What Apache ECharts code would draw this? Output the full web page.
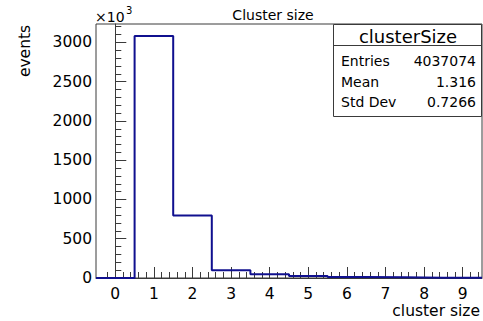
<!DOCTYPE html>
<html>
<head>
<meta charset="utf-8">
<script src="https://cdn.jsdelivr.net/npm/echarts@6/dist/echarts.min.js"></script>
<style>
  html, body { margin: 0; padding: 0; background: #ffffff; }
  #chart { width: 483px; height: 321px; }
</style>
</head>
<body>
<div id="chart"></div>
<script>
// Cluster-size histogram: bin centres and counts (in units of 10^3 events)
const binCenters = [0, 1, 2, 3, 4, 5, 6, 7, 8, 9];
const counts = [0, 3080, 795, 100, 48, 25, 14, 9, 4, 2];
const binWidth = 1;

// Axis tick labels
const xTickLabels = [0, 1, 2, 3, 4, 5, 6, 7, 8, 9];
const yTickLabels = [0, 500, 1000, 1500, 2000, 2500, 3000];

// Statistics box
const statsTitle = 'clusterSize';
const statsNames = ['Entries', 'Mean', 'Std Dev'];
const statsValues = ['4037074', '1.316', '0.7266'];

const xRange = [-0.5, 9.5];
const yRange = [0, 3234];

const FONT = 'DejaVu Sans';
const AXIS_COLOR = '#3a3a3a';
const LINE_COLOR = '#10108f';

// Histogram outline as a step line through the lower bin edges, closed at the last upper edge
const stepData = counts.map((v, i) => [binCenters[i] - binWidth / 2, v]);
stepData.push([binCenters[binCenters.length - 1] + binWidth / 2, counts[counts.length - 1]]);

// Minor tick positions (5 subdivisions per major division)
const xMinor = [];
for (let k = Math.round(xRange[0] * 5) + 1; k < Math.round(xRange[1] * 5); k++) {
  if (k % 5 !== 0) xMinor.push(k / 5);
}
const yMinor = [];
for (let v = 100; v < yRange[1]; v += 100) {
  if (v % 500 !== 0) yMinor.push(v);
}

const plainNumber = (v) => String(v);

const chart = echarts.init(document.getElementById('chart'), null, { renderer: 'svg' });

const gridRect = { left: 96, top: 24, width: 386, height: 254 };

chart.setOption({
  animation: false,
  backgroundColor: '#ffffff',
  grid: {
    left: gridRect.left, top: gridRect.top, width: gridRect.width, height: gridRect.height,
    show: true, borderColor: AXIS_COLOR, borderWidth: 1, backgroundColor: 'transparent'
  },
  xAxis: [
    {
      type: 'value', min: xRange[0], max: xRange[1], position: 'bottom',
      splitLine: { show: false },
      axisLine: { show: true, lineStyle: { color: AXIS_COLOR, width: 1 } },
      axisTick: { show: true, inside: true, length: 11, customValues: xTickLabels,
                  lineStyle: { color: AXIS_COLOR, width: 1 } },
      axisLabel: { show: true, customValues: xTickLabels, margin: 8, formatter: plainNumber,
                   fontFamily: FONT, fontSize: 15.5, color: '#000' }
    },
    {
      type: 'value', min: xRange[0], max: xRange[1], position: 'bottom',
      splitLine: { show: false },
      axisLine: { show: false },
      axisTick: { show: true, inside: true, length: 6, customValues: xMinor,
                  lineStyle: { color: AXIS_COLOR, width: 1 } },
      axisLabel: { show: false }
    }
  ],
  yAxis: [
    {
      type: 'value', min: yRange[0], max: yRange[1], position: 'left',
      splitLine: { show: false },
      axisLine: { show: true, lineStyle: { color: AXIS_COLOR, width: 1 } },
      axisTick: { show: true, inside: true, length: 11, customValues: yTickLabels,
                  lineStyle: { color: AXIS_COLOR, width: 1 } },
      axisLabel: { show: true, customValues: yTickLabels, margin: 4, formatter: plainNumber,
                   fontFamily: FONT, fontSize: 15.5, color: '#000' }
    },
    {
      type: 'value', min: yRange[0], max: yRange[1], position: 'left',
      splitLine: { show: false },
      axisLine: { show: false },
      axisTick: { show: true, inside: true, length: 6, customValues: yMinor,
                  lineStyle: { color: AXIS_COLOR, width: 1 } },
      axisLabel: { show: false }
    }
  ],
  series: [
    {
      name: 'clusterSize',
      type: 'line',
      step: 'end',
      xAxisIndex: 0,
      yAxisIndex: 0,
      data: stepData,
      showSymbol: false,
      symbol: 'none',
      lineStyle: { color: LINE_COLOR, width: 2 },
      z: 3
    }
  ],
  graphic: [
    // Histogram title
    { type: 'text', x: 273, y: 15, z: 50,
      style: { text: 'Cluster size', fontFamily: FONT, fontSize: 14, fill: '#000',
               align: 'center', verticalAlign: 'middle' } },
    // Axis exponent
    { type: 'text', x: 95, y: 17, z: 50,
      style: { text: '×10', fontFamily: FONT, fontSize: 14, fill: '#000',
               align: 'left', verticalAlign: 'middle' } },
    { type: 'text', x: 126, y: 10, z: 50,
      style: { text: '3', fontFamily: FONT, fontSize: 10, fill: '#000',
               align: 'left', verticalAlign: 'middle' } },
    // Axis titles
    { type: 'text', x: 25, y: 51, rotation: Math.PI / 2, z: 50,
      style: { text: 'events', fontFamily: FONT, fontSize: 15.5, fill: '#000',
               align: 'center', verticalAlign: 'middle' } },
    { type: 'text', x: 480, y: 311, z: 50,
      style: { text: 'cluster size', fontFamily: FONT, fontSize: 15.5, fill: '#000',
               align: 'right', verticalAlign: 'middle' } },
    // Statistics box
    { type: 'rect', z: 60,
      shape: { x: 333.5, y: 24.5, width: 148, height: 92 },
      style: { fill: '#ffffff', stroke: AXIS_COLOR, lineWidth: 1 } },
    { type: 'line', z: 61,
      shape: { x1: 333.5, y1: 45.5, x2: 481.5, y2: 45.5 },
      style: { stroke: AXIS_COLOR, lineWidth: 1 } },
    { type: 'text', x: 408, y: 36, z: 62,
      style: { text: statsTitle, fontFamily: FONT, fontSize: 18, fill: '#000',
               align: 'center', verticalAlign: 'middle' } }
  ].concat(
    statsNames.map((name, i) => ({
      type: 'text', x: 341, y: 61 + i * 20.5, z: 62,
      style: { text: name, fontFamily: FONT, fontSize: 14, fill: '#000',
               align: 'left', verticalAlign: 'middle' }
    })),
    statsValues.map((val, i) => ({
      type: 'text', x: 476, y: 61 + i * 20.5, z: 62,
      style: { text: val, fontFamily: FONT, fontSize: 14, fill: '#000',
               align: 'right', verticalAlign: 'middle' }
    }))
  )
});
</script>
</body>
</html>
